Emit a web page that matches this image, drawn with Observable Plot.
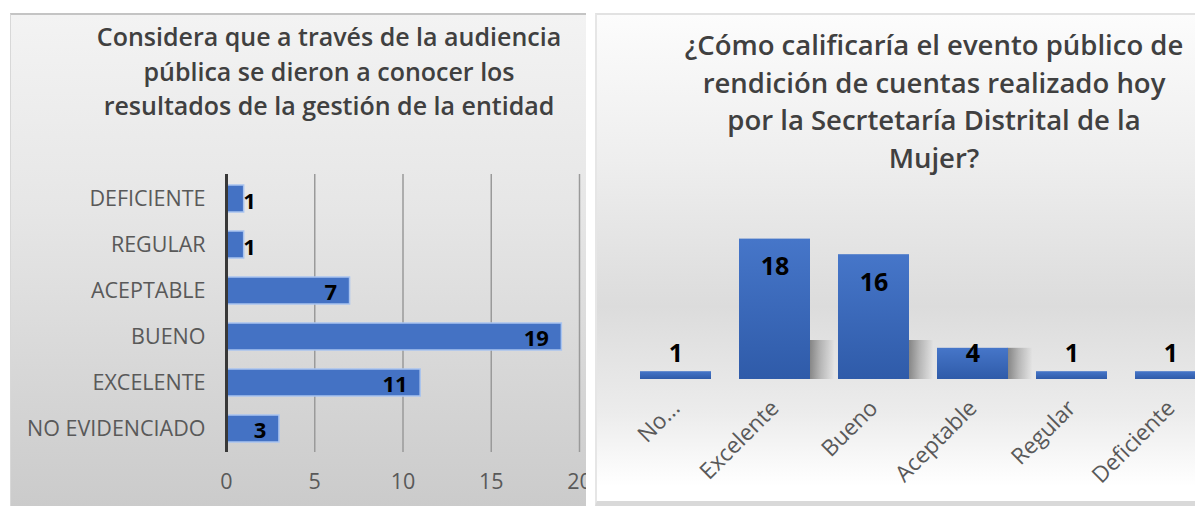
<!DOCTYPE html>
<html>
<head>
<meta charset="utf-8">
<script src="https://cdn.jsdelivr.net/npm/d3@7"></script>
<script src="https://cdn.jsdelivr.net/npm/@observablehq/plot@0.6"></script>
<style>
  html, body { margin: 0; padding: 0; background: #ffffff; }
  #root { position: relative; width: 1195px; height: 506px; overflow: hidden; font-family: "Open Sans", sans-serif; }
  .panel { position: absolute; overflow: hidden; box-sizing: border-box; }
  #left { left: 10px; top: 13px; width: 576px; height: 493px;
    background: linear-gradient(to bottom, #f3f3f3 0%, #e6e6e6 40%, #d6d6d6 75%, #cbcbcb 100%);
    border-top: 2px solid #c4c4c4; border-left: 1px solid #d8d8d8; }
  #right { left: 595px; top: 13px; width: 600px; height: 493px;
    background: linear-gradient(to bottom, #fcfcfc 0%, #eeeeee 30%, #dcdcdc 60%, #ececec 82%, #ffffff 97%);
    border-top: 2px solid #e2e2e2; border-left: 2px solid #e6e6e6; border-bottom: 5px solid #d9d9d9; }
  .title { position: absolute; text-align: center; font-weight: 600; color: #404040; white-space: nowrap; }
  #ltitle { left: 28px; width: 580px; top: 4px; font-size: 25px; line-height: 34.5px; }
  #rtitle { left: 47px; width: 580px; top: 11px; font-size: 27.5px; line-height: 37.5px; }
  .chart { position: absolute; left: 0; top: 0; }
  .chart svg { max-width: none !important; }
</style>
</head>
<body>
<div id="root">
  <div class="panel" id="left">
    <div class="title" id="ltitle">Considera que a través de la audiencia<br>pública se dieron a conocer los<br>resultados de la gestión de la entidad</div>
    <div class="chart" id="lchart"></div>
  </div>
  <div class="panel" id="right">
    <div class="title" id="rtitle">¿Cómo calificaría el evento público de<br>rendición de cuentas realizado hoy<br>por la Secrtetaría Distrital de la<br>Mujer?</div>
    <div class="chart" id="rchart"></div>
  </div>
</div>
<script>
// ---- data ----
const leftCategories = ["DEFICIENTE", "REGULAR", "ACEPTABLE", "BUENO", "EXCELENTE", "NO EVIDENCIADO"];
const leftValues = [1, 1, 7, 19, 11, 3];
const leftTicks = [0, 5, 10, 15, 20];

const rightCategories = ["No...", "Excelente", "Bueno", "Aceptable", "Regular", "Deficiente"];
const rightValues = [1, 18, 16, 4, 1, 1];

const leftData = leftCategories.map((c, i) => ({c, v: leftValues[i]}));
const rightData = rightCategories.map((c, i) => ({c, v: rightValues[i]}));

// ---- left chart ----
const lsvg = Plot.plot({
  width: 576, height: 491,
  marginLeft: 215, marginRight: 8, marginTop: 159, marginBottom: 54,
  style: {background: "transparent", fontFamily: "Open Sans, sans-serif", fontSize: "21.5px", color: "#595959", maxWidth: "none"},
  x: {domain: [0, 20], ticks: leftTicks, tickSize: 0, tickPadding: 21, label: null},
  y: {domain: leftCategories, paddingInner: 0.42, paddingOuter: 0.21, tickSize: 0, tickPadding: 21, label: null},
  marks: [
    Plot.gridX(leftTicks.filter(t => t > 0), {stroke: "#9a9a9a", strokeOpacity: 1, strokeWidth: 1.5}),
    Plot.barX(leftData, {x: "v", y: "c", fill: "#4472c4", stroke: "#a9c4ef", strokeWidth: 1.5}),
    Plot.ruleX([0], {stroke: "#383838", strokeWidth: 3}),
    Plot.text(leftData.filter(d => d.v >= 3), {x: "v", y: "c", text: d => String(d.v), textAnchor: "end", dx: -13, dy: 2, fill: "#000", fontWeight: "bold", fontSize: 22}),
    Plot.text(leftData.filter(d => d.v < 3), {x: "v", y: "c", text: d => String(d.v), textAnchor: "start", dx: -1, dy: 3, fill: "#000", fontWeight: "bold", fontSize: 22})
  ]
});
document.getElementById("lchart").appendChild(lsvg);

// ---- right chart ----
const rsvg = Plot.plot({
  width: 630, height: 488,
  marginLeft: 29, marginRight: 7, marginTop: 208, marginBottom: 124,
  style: {background: "transparent", fontFamily: "Open Sans, sans-serif", fontSize: "22.5px", color: "#595959", maxWidth: "none"},
  x: {domain: rightCategories, paddingInner: 0.286, paddingOuter: 0.143, tickSize: 0, tickRotate: -45, tickPadding: 25, label: null},
  y: {domain: [0, 20], axis: null},
  marks: [
    Plot.barY(rightData.filter(d => d.v > 1), {x: "c", y1: 0, y2: d => Math.min(d.v, 5), insetLeft: 46, dx: 24.5, fill: "url(#shgrad)"}),
    Plot.barY(rightData, {x: "c", y: "v", fill: "url(#rgrad)"}),
    Plot.text(rightData.filter(d => d.v >= 10), {x: "c", y: "v", text: d => String(d.v), dy: 28, fill: "#000", fontWeight: "bold", fontSize: 25}),
    Plot.text(rightData.filter(d => d.v < 10), {x: "c", y: () => 0, text: d => String(d.v), dy: -26, fill: "#000", fontWeight: "bold", fontSize: 25})
  ]
});
d3.select(rsvg).insert("defs", ":first-child").html(
  '<linearGradient id="rgrad" x1="0" y1="0" x2="0" y2="1">' +
  '<stop offset="0%" stop-color="#4676c9"/><stop offset="100%" stop-color="#2f5ba9"/></linearGradient>' +
  '<linearGradient id="shgrad" x1="0" y1="0" x2="1" y2="0">' +
  '<stop offset="0%" stop-color="#000" stop-opacity="0.42"/><stop offset="45%" stop-color="#000" stop-opacity="0.2"/>' +
  '<stop offset="100%" stop-color="#000" stop-opacity="0"/></linearGradient>'
);
document.getElementById("rchart").appendChild(rsvg);
</script>
</body>
</html>
